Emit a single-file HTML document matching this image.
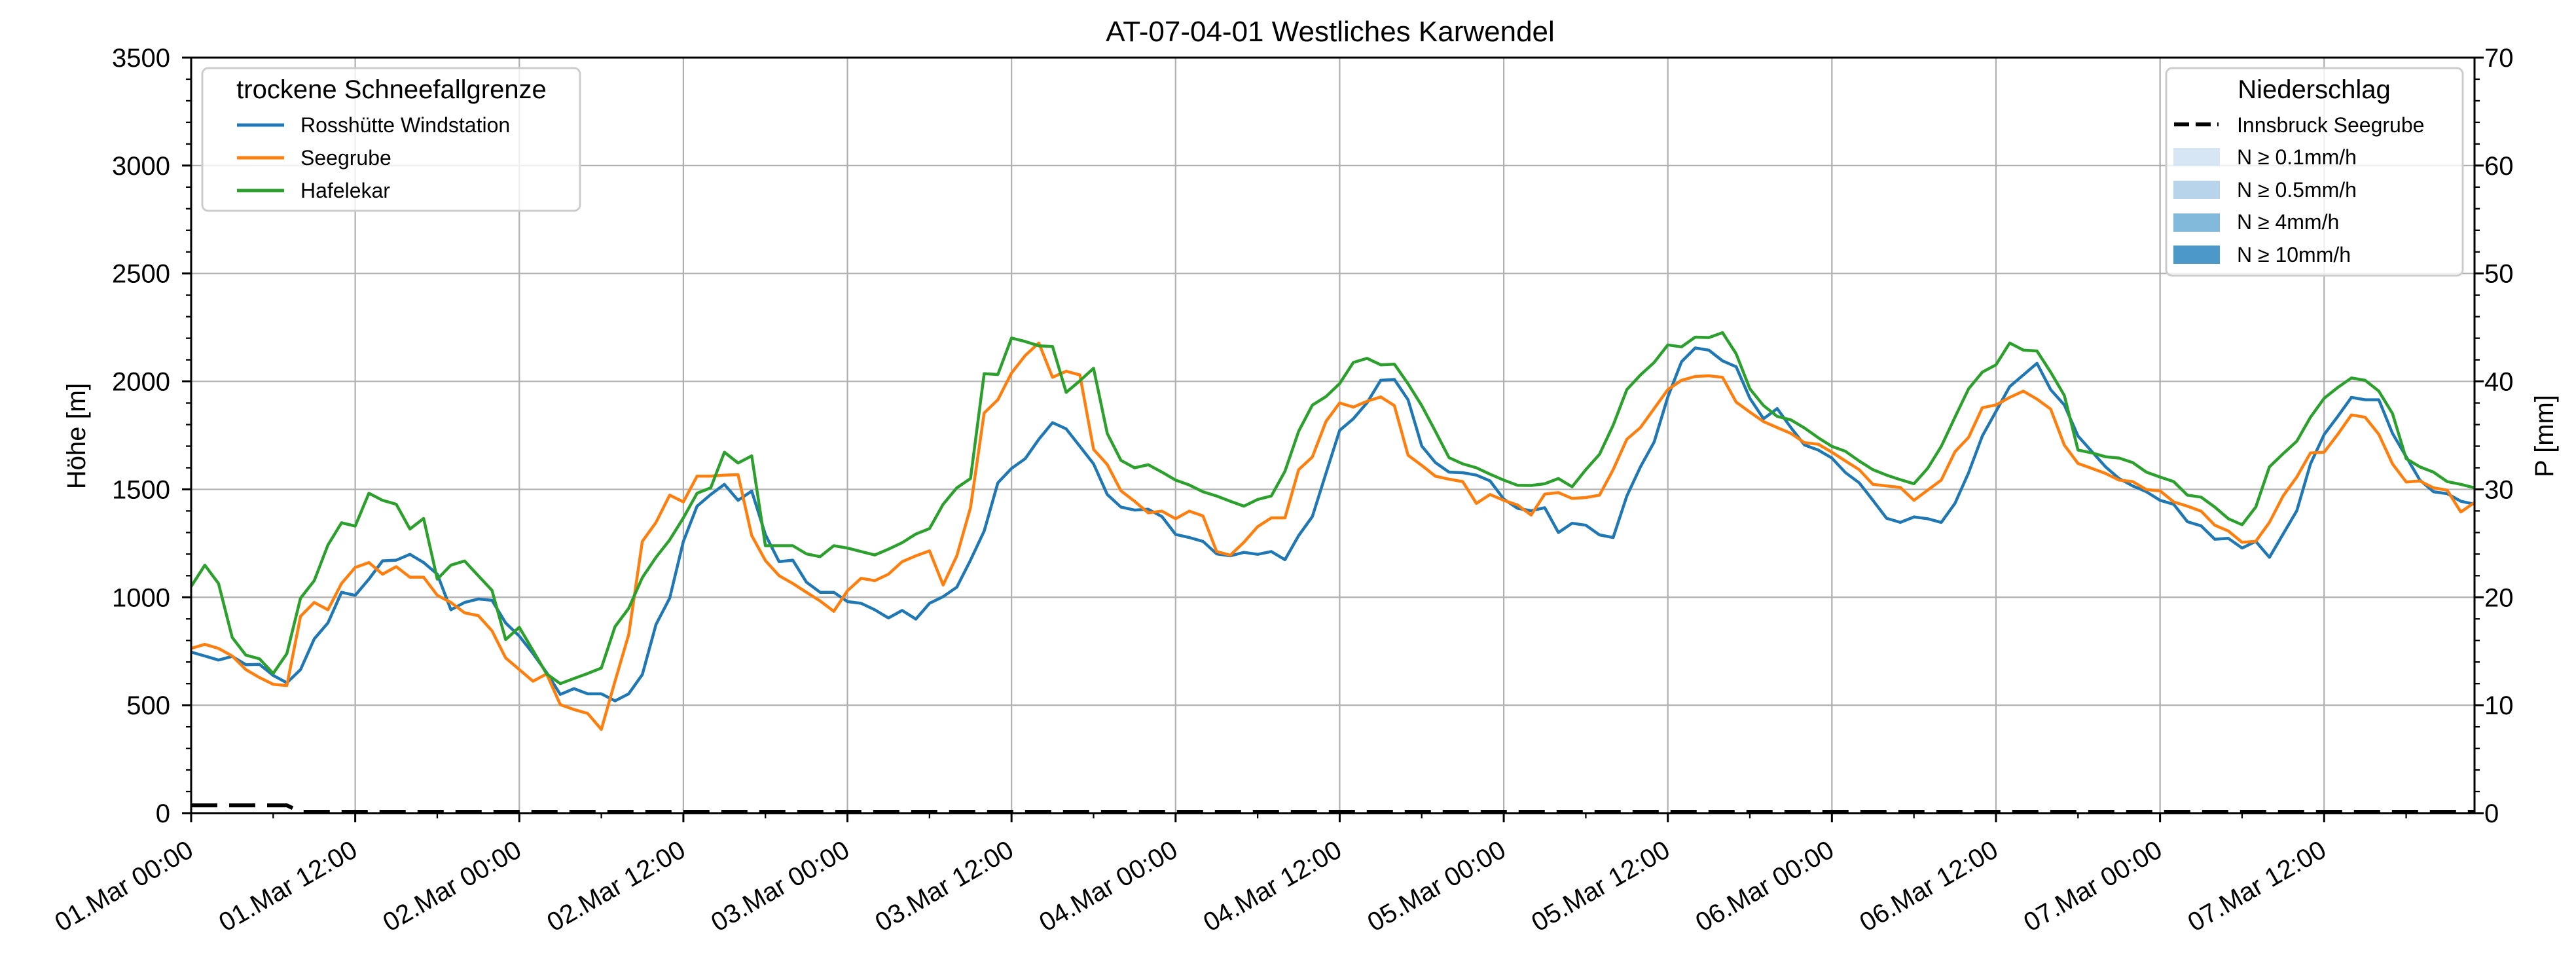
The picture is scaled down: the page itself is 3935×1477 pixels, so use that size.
<!DOCTYPE html>
<html>
<head>
<meta charset="utf-8">
<style>
  html, body { margin: 0; padding: 0; background: #ffffff; }
  svg { display: block; }
  text { font-family: "Liberation Sans", "DejaVu Sans", sans-serif; fill: #000; }
</style>
</head>
<body>
<svg id="chart" xmlns="http://www.w3.org/2000/svg" width="3935" height="1477" viewBox="0 0 3935 1477">
  <rect x="0" y="0" width="3935" height="1477" fill="#ffffff"/>
  <text x="2032" y="63" font-size="44" text-anchor="middle">AT-07-04-01 Westliches Karwendel</text>
  <g id="grid"></g>
  <g id="series"></g>
  <g id="axes"></g>
  <text transform="translate(130,666) rotate(-90)" font-size="40" text-anchor="middle">Höhe [m]</text>
  <text transform="translate(3900,666) rotate(-90)" font-size="40" text-anchor="middle">P [mm]</text>

  <g>
    <rect x="309" y="104" width="577" height="218" rx="9" fill="#ffffff" fill-opacity="0.8" stroke="#cccccc" stroke-width="3"/>
    <text x="598" y="150" font-size="40" text-anchor="middle">trockene Schneefallgrenze</text>
    <line x1="362" y1="191" x2="434" y2="191" stroke="#1f77b4" stroke-width="5"/>
    <text x="459" y="202" font-size="32">Rosshütte Windstation</text>
    <line x1="362" y1="241" x2="434" y2="241" stroke="#ff7f0e" stroke-width="5"/>
    <text x="459" y="252" font-size="32">Seegrube</text>
    <line x1="362" y1="291" x2="434" y2="291" stroke="#2ca02c" stroke-width="5"/>
    <text x="459" y="302" font-size="32">Hafelekar</text>
  </g>

  <g>
    <rect x="3309" y="104" width="453" height="317" rx="9" fill="#ffffff" fill-opacity="0.8" stroke="#cccccc" stroke-width="3"/>
    <text x="3535" y="150" font-size="40" text-anchor="middle">Niederschlag</text>
    <line x1="3321" y1="190" x2="3389" y2="190" stroke="#000" stroke-width="6" stroke-dasharray="23 10"/>
    <text x="3417" y="202" font-size="32">Innsbruck Seegrube</text>
    <rect x="3320" y="226" width="71" height="28" fill="#d6e6f4"/>
    <text x="3417" y="251" font-size="32">N ≥ 0.1mm/h</text>
    <rect x="3320" y="276" width="71" height="28" fill="#b7d4ea"/>
    <text x="3417" y="301" font-size="32">N ≥ 0.5mm/h</text>
    <rect x="3320" y="326" width="71" height="28" fill="#82badb"/>
    <text x="3417" y="350" font-size="32">N ≥ 4mm/h</text>
    <rect x="3320" y="375" width="71" height="28" fill="#4b98c9"/>
    <text x="3417" y="400" font-size="32">N ≥ 10mm/h</text>
  </g>
</svg>
<script>
const rosshuette = [746,728,709,726,688,689,638,604,665,807,881,1023,1009,1084,1169,1172,1199,1161,1107,942,976,992,986,881,820,739,651,550,577,553,553,520,553,642,874,996,1259,1422,1476,1523,1449,1492,1290,1165,1172,1070,1023,1023,980,972,942,904,939,899,972,1003,1047,1172,1307,1530,1597,1642,1732,1809,1780,1699,1618,1476,1418,1404,1408,1374,1291,1277,1259,1201,1192,1208,1199,1212,1174,1286,1374,1575,1773,1827,1901,2005,2009,1915,1701,1624,1580,1577,1566,1539,1455,1412,1401,1415,1300,1343,1334,1289,1277,1469,1604,1719,1928,2091,2155,2145,2095,2068,1922,1827,1874,1786,1705,1682,1645,1577,1530,1449,1366,1347,1372,1364,1347,1435,1577,1747,1861,1976,2030,2084,1962,1891,1747,1676,1605,1550,1516,1489,1449,1431,1350,1331,1269,1273,1228,1259,1185,1293,1401,1618,1754,1838,1926,1915,1915,1759,1651,1543,1489,1480,1445,1431];
const seegrube = [763,782,763,728,665,628,597,591,912,976,942,1064,1138,1161,1107,1142,1093,1093,1009,976,928,915,845,719,665,611,645,503,480,462,388,611,827,1259,1347,1473,1442,1561,1561,1566,1568,1286,1170,1100,1064,1023,983,935,1030,1088,1077,1107,1165,1192,1215,1057,1192,1415,1854,1915,2039,2120,2178,2019,2047,2030,1685,1615,1493,1445,1391,1399,1364,1399,1377,1212,1195,1255,1327,1368,1368,1591,1650,1815,1900,1881,1908,1928,1888,1658,1611,1561,1547,1536,1435,1476,1449,1428,1381,1478,1485,1458,1462,1473,1591,1732,1786,1874,1962,2005,2023,2026,2019,1904,1858,1814,1786,1759,1716,1709,1672,1631,1591,1523,1516,1509,1449,1496,1543,1674,1741,1878,1891,1926,1955,1918,1872,1705,1620,1597,1574,1543,1536,1499,1493,1442,1422,1399,1334,1307,1255,1259,1347,1469,1557,1669,1672,1755,1845,1834,1755,1618,1534,1539,1507,1496,1395,1439];
const hafelekar = [1050,1149,1064,814,732,715,647,739,996,1077,1242,1345,1330,1482,1449,1431,1316,1365,1084,1149,1168,1100,1032,804,861,753,645,600,624,647,672,864,949,1091,1185,1266,1368,1482,1507,1672,1622,1655,1239,1239,1239,1201,1188,1239,1228,1212,1196,1223,1253,1293,1318,1431,1507,1550,2036,2032,2201,2185,2165,2162,1949,2003,2061,1759,1634,1600,1614,1580,1543,1520,1489,1469,1445,1422,1453,1469,1584,1769,1890,1930,1990,2088,2107,2077,2080,1989,1888,1769,1647,1618,1600,1570,1543,1519,1518,1526,1550,1512,1591,1662,1797,1962,2030,2088,2169,2160,2205,2203,2226,2128,1966,1888,1838,1822,1784,1739,1699,1676,1631,1591,1566,1545,1526,1597,1699,1834,1966,2043,2077,2178,2145,2141,2043,1935,1682,1669,1651,1645,1624,1580,1557,1536,1473,1464,1418,1364,1336,1418,1604,1665,1723,1834,1922,1972,2016,2005,1955,1851,1642,1604,1580,1536,1523,1507];
const precipSeegrube = [0.6,0.6,0.6,0.6,0.6,0.6,0.6,0.6,0,0,0,0,0,0,0,0,0,0,0,0,0,0,0,0,0,0,0,0,0,0,0,0,0,0,0,0,0,0,0,0,0,0,0,0,0,0,0,0,0,0,0,0,0,0,0,0,0,0,0,0,0,0,0,0,0,0,0,0,0,0,0,0,0,0,0,0,0,0,0,0,0,0,0,0,0,0,0,0,0,0,0,0,0,0,0,0,0,0,0,0,0,0,0,0,0,0,0,0,0,0,0,0,0,0,0,0,0,0,0,0,0,0,0,0,0,0,0,0,0,0,0,0,0,0,0,0,0,0,0,0,0,0,0,0,0,0,0,0,0,0,0,0,0,0,0,0,0,0,0,0,0,0,0,0,0,0,0,0];
const xTickLabels = ["01.Mar 00:00","01.Mar 12:00","02.Mar 00:00","02.Mar 12:00","03.Mar 00:00","03.Mar 12:00","04.Mar 00:00","04.Mar 12:00","05.Mar 00:00","05.Mar 12:00","06.Mar 00:00","06.Mar 12:00","07.Mar 00:00","07.Mar 12:00"];
const yTicks = [0,500,1000,1500,2000,2500,3000,3500];
const y2Ticks = [0,10,20,30,40,50,60,70];

const NS = "http://www.w3.org/2000/svg";
const L = 292, R = 3780, T = 88, B = 1242;
const X_MAX = 167, Y_MAX = 3500, Y2_MAX = 70;
function xs(h) { return L + h * (R - L) / X_MAX; }
function ys(m) { return B - m * (B - T) / Y_MAX; }
function y2s(p) { return B - p * (B - T) / Y2_MAX; }
function mk(tag, attrs, parent) {
  const el = document.createElementNS(NS, tag);
  for (const k in attrs) el.setAttribute(k, attrs[k]);
  parent.appendChild(el);
  return el;
}
const grid = document.getElementById('grid');
const axes = document.getElementById('axes');
const series = document.getElementById('series');

xTickLabels.forEach((lab, i) => {
  const x = xs(i * 12);
  const g = mk('line', {x1: x, y1: T, x2: x, y2: B, stroke: '#b0b0b0', 'stroke-width': 2.2}, grid);
  
  
});
yTicks.forEach(v => {
  const y = ys(v);
  const g = mk('line', {x1: L, y1: y, x2: R, y2: y, stroke: '#b0b0b0', 'stroke-width': 2.2}, grid);
  
  
});

function drawLine(arr, color, name) {
  const pts = arr.map((v, i) => xs(i).toFixed(1) + ',' + ys(v).toFixed(1)).join(' ');
  const p = mk('polyline', {points: pts, fill: 'none', stroke: color, 'stroke-width': 4.5, 'stroke-linejoin': 'round'}, series);
  
  
}
drawLine(rosshuette, '#1f77b4', 'line-rosshuette-windstation');
drawLine(seegrube, '#ff7f0e', 'line-seegrube');
drawLine(hafelekar, '#2ca02c', 'line-hafelekar');
const ppts = precipSeegrube.map((v, i) => xs(i).toFixed(1) + ',' + (y2s(v) - 2).toFixed(1)).join(' ');
const pl = mk('polyline', {points: ppts, fill: 'none', stroke: '#000', 'stroke-width': 6, 'stroke-dasharray': '40 18'}, series);



const frame = mk('rect', {x: L, y: T, width: R - L, height: B - T, fill: 'none', stroke: '#000', 'stroke-width': 3}, axes);



for (let h = 0; h <= X_MAX; h += 6) {
  const major = h % 12 === 0;
  const x = xs(h);
  const t = mk('line', {x1: x, y1: B, x2: x, y2: B + (major ? 14 : 8), stroke: '#000', 'stroke-width': major ? 3 : 2.3}, axes);
  
  
}
xTickLabels.forEach((lab, i) => {
  const x = xs(i * 12) + 6, y = 1306;
  const t = mk('text', {x: x, y: y, 'font-size': 40, 'text-anchor': 'end', transform: 'rotate(-30 ' + x + ' ' + y + ')'}, axes);
  t.textContent = lab;
  
  
});
for (let v = 0; v <= Y_MAX; v += 100) {
  const major = v % 500 === 0;
  const y = ys(v);
  const t = mk('line', {x1: L - (major ? 14 : 8), y1: y, x2: L, y2: y, stroke: '#000', 'stroke-width': major ? 3 : 2.3}, axes);
  
  
}
yTicks.forEach(v => {
  const t = mk('text', {x: 260, y: ys(v) + 14, 'font-size': 40, 'text-anchor': 'end'}, axes);
  t.textContent = String(v);
  
  
});
for (let v = 0; v <= Y2_MAX; v += 2) {
  const major = v % 10 === 0;
  const y = y2s(v);
  const t = mk('line', {x1: R, y1: y, x2: R + (major ? 14 : 8), y2: y, stroke: '#000', 'stroke-width': major ? 3 : 2.3}, axes);
  
  
}
y2Ticks.forEach(v => {
  const t = mk('text', {x: 3795, y: y2s(v) + 14, 'font-size': 40, 'text-anchor': 'start'}, axes);
  t.textContent = String(v);
  
  
});
</script>
</body>
</html>
